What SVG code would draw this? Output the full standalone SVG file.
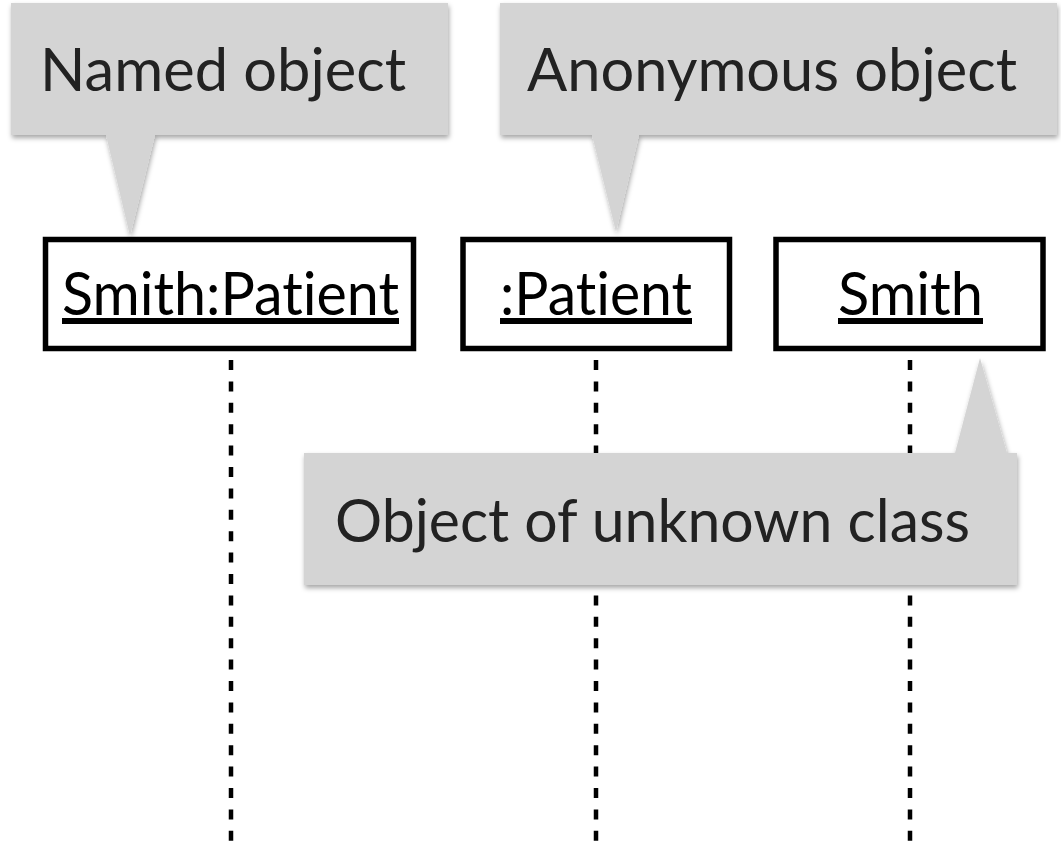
<svg xmlns="http://www.w3.org/2000/svg" width="1061" height="842" viewBox="0 0 1061 842">
  <defs>
    <filter id="shadow" x="-5%" y="-10%" width="110%" height="130%">
      <feDropShadow dx="1" dy="3" stdDeviation="2.5" flood-color="#000" flood-opacity="0.35"/>
    </filter>
  </defs>
  <style>
    .callout { fill: #d4d4d4; filter: url(#shadow); }
    .ctext { font-family: Lato, "Open Sans", "Liberation Sans", sans-serif; font-size: 60px; fill: #222; font-variant-ligatures: none; font-feature-settings: "liga" 0, "clig" 0; }
    .box { fill: #fff; stroke: #000; stroke-width: 5.5; }
    .btext { font-family: Lato, "Open Sans", "Liberation Sans", sans-serif; font-size: 60px; fill: #000; text-decoration: underline; font-variant-ligatures: none; font-feature-settings: "liga" 0, "clig" 0; }
    .lifeline { stroke: #000; stroke-width: 4.5; stroke-dasharray: 10 11.4; fill: none; }
  </style>
  <rect width="1061" height="842" fill="#fff"/>

  <g id="connectors">
    <line class="lifeline" x1="231" y1="360" x2="231" y2="842"/>
    <line class="lifeline" x1="596" y1="360" x2="596" y2="842"/>
    <line class="lifeline" x1="910" y1="360" x2="910" y2="842"/>
  </g>

  <g id="obj-smith-patient">
    <rect class="box" x="45.5" y="239.5" width="368" height="109"/>
    <text class="btext" x="62" y="315" textLength="337" lengthAdjust="spacingAndGlyphs">Smith:Patient</text>
  </g>
  <g id="obj-patient">
    <rect class="box" x="463" y="239.5" width="266.5" height="109"/>
    <text class="btext" x="500" y="315" textLength="192" lengthAdjust="spacingAndGlyphs">:Patient</text>
  </g>
  <g id="obj-smith">
    <rect class="box" x="776" y="239.5" width="267" height="109"/>
    <text class="btext" x="838" y="315" textLength="145" lengthAdjust="spacingAndGlyphs">Smith</text>
  </g>

  <g id="callout-named">
    <path class="callout" d="M11,3 H448 V135 H155 L130,236 L106,135 H11 Z"/>
    <text class="ctext" x="40" y="91" textLength="366" lengthAdjust="spacingAndGlyphs">Named object</text>
  </g>
  <g id="callout-anonymous">
    <path class="callout" d="M500,3 H1057 V135 H639 L616,232 L592,135 H500 Z"/>
    <text class="ctext" x="527" y="91" textLength="490" lengthAdjust="spacingAndGlyphs">Anonymous object</text>
  </g>
  <g id="callout-unknown-class">
    <path class="callout" d="M304,453 H955 L980,358 L1007,453 H1017 V585 H304 Z"/>
    <text class="ctext" x="335" y="542" textLength="635" lengthAdjust="spacingAndGlyphs">Object of unknown class</text>
  </g>
</svg>
